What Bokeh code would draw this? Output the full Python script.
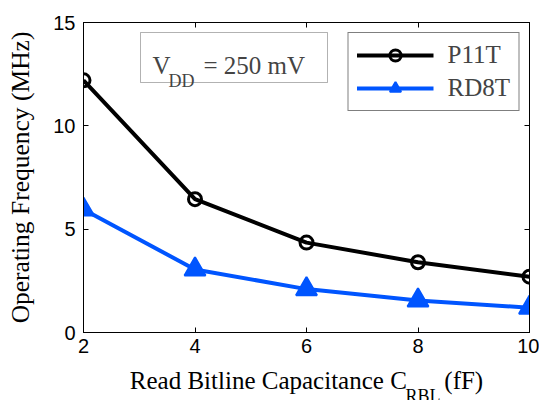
from bokeh.plotting import figure
from bokeh.models import Label, BoxAnnotation, LinearAxis, FixedTicker, Range1d, Title
from bokeh.embed import file_html
from bokeh.resources import INLINE

# ---- data ----
cap_ff = [2, 4, 6, 8, 10]
p11t_mhz = [12.2, 6.45, 4.35, 3.4, 2.7]
rd8t_mhz = [5.95, 3.05, 2.1, 1.55, 1.2]
x_ticks = [2, 4, 6, 8, 10]
y_ticks = [0, 5, 10, 15]
series_names = ["P11T", "RD8T"]

SERIF = "Liberation Serif"
SANS = "Liberation Sans"
BLUE = "#0055ff"

p = figure(width=539, height=400, output_backend="svg", toolbar_location=None,
           x_range=Range1d(2, 10), y_range=Range1d(0, 15),
           min_border_left=83, min_border_right=10, min_border_top=22, min_border_bottom=68)

p.xgrid.visible = False
p.ygrid.visible = False
p.outline_line_color = "black"
p.outline_line_width = 1
p.background_fill_color = "white"
p.border_fill_color = "white"

# main axes
for ax, ticks in ((p.xaxis[0], x_ticks), (p.yaxis[0], y_ticks)):
    ax.ticker = FixedTicker(ticks=ticks)
    ax.major_tick_in = 5
    ax.major_tick_out = 0
    ax.minor_tick_line_color = None
    ax.axis_line_color = "black"
    ax.major_tick_line_color = "black"
    ax.major_label_text_font = SANS
    ax.major_label_text_font_size = "20px"
    ax.major_label_text_color = "black"
    ax.axis_label_text_font = SERIF
    ax.axis_label_text_font_style = "normal"
    ax.axis_label_text_color = "black"
p.xaxis.major_label_standoff = 6
p.yaxis.major_label_standoff = 8

p.yaxis.axis_label = "Operating Frequency (MHz)"
p.yaxis.axis_label_text_font_size = "25.5px"
p.yaxis.axis_label_standoff = 15

# x title: main part, with a gap left for the subscript
p.xaxis.axis_label = "Read Bitline Capacitance C\u2003\u00a0\u00a0(fF)"
p.xaxis.axis_label_text_font_size = "25px"
p.xaxis.axis_label_standoff = 11

# subscript "RBL" placed as a title in the bottom panel
p.add_layout(Title(text="RBL", align="left", offset=322, vertical_align="top",
                   standoff=-22, text_font=SERIF, text_font_size="18px",
                   text_font_style="normal", text_color="black"), "below")

# mirrored tick axes (ticks only)
top_ax = LinearAxis(ticker=FixedTicker(ticks=x_ticks))
right_ax = LinearAxis(ticker=FixedTicker(ticks=y_ticks))
for ax in (top_ax, right_ax):
    ax.major_tick_in = 5
    ax.major_tick_out = 0
    ax.minor_tick_line_color = None
    ax.major_label_text_font_size = "0px"
    ax.major_label_text_color = None
    ax.major_label_standoff = 0
    ax.axis_line_color = "black"
p.add_layout(top_ax, "above")
p.add_layout(right_ax, "right")

# series
p.line(cap_ff, p11t_mhz, line_color="black", line_width=4, legend_label=series_names[0])
p.scatter(cap_ff, p11t_mhz, marker="circle", size=13, fill_color=None,
          line_color="black", line_width=3, legend_label=series_names[0])
p.line(cap_ff, rd8t_mhz, line_color=BLUE, line_width=4, legend_label=series_names[1])
p.scatter(cap_ff, rd8t_mhz, marker="triangle", size=21, fill_color=BLUE,
          line_color=BLUE, line_width=2, legend_label=series_names[1])

lg = p.legend[0]
lg.location = "top_right"
lg.margin = 10
lg.padding = 8
lg.spacing = 5
lg.glyph_width = 77
lg.glyph_height = 28
lg.label_height = 28
lg.label_standoff = 14
lg.label_text_font = SERIF
lg.label_text_font_size = "25px"
lg.label_text_baseline = "middle"
lg.border_line_color = "black"
lg.border_line_width = 1
lg.background_fill_color = "white"
lg.background_fill_alpha = 1

# V_DD annotation box (inside the frame)
p.add_layout(BoxAnnotation(left=57, right=244, bottom=250, top=300,
                           left_units="screen", right_units="screen",
                           bottom_units="screen", top_units="screen",
                           fill_color=None, line_color="black", line_width=1))
p.add_layout(Label(x=69, y=267, x_units="screen", y_units="screen", text="V",
                   text_font=SERIF, text_font_size="25px", text_baseline="alphabetic"))
p.add_layout(Label(x=85, y=252, x_units="screen", y_units="screen", text="DD",
                   text_font=SERIF, text_font_size="18px", text_baseline="alphabetic"))
p.add_layout(Label(x=120, y=267, x_units="screen", y_units="screen", text="= 250 mV",
                   text_font=SERIF, text_font_size="25px", text_baseline="alphabetic"))

open("out.html", "w").write(file_html(p, INLINE))
